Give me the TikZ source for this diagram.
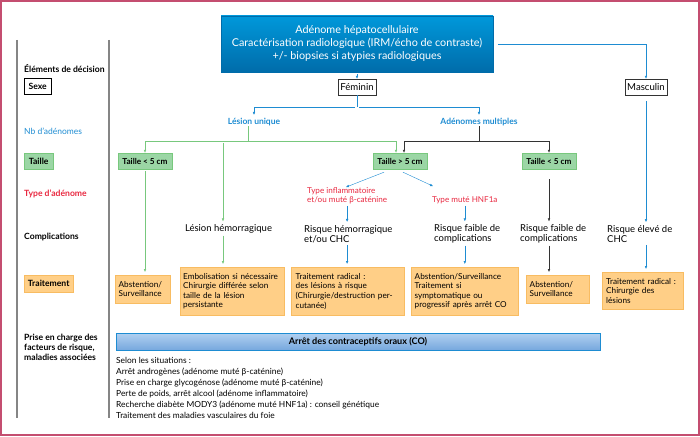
\documentclass[tikz,border=0pt]{standalone}
\usepackage{fontspec}
\setmainfont{Lato}
\usetikzlibrary{arrows.meta,calc}

\definecolor{cadre}{RGB}{196,78,112}
\definecolor{bleu}{RGB}{30,140,210}
\definecolor{bleuhaut}{RGB}{0,152,218}
\definecolor{bleubas}{RGB}{0,108,170}
\definecolor{vert}{RGB}{120,200,125}
\definecolor{vertfond}{RGB}{155,214,165}
\definecolor{orfond}{RGB}{255,207,135}
\definecolor{orbord}{RGB}{248,188,98}
\definecolor{rouge}{RGB}{232,40,64}
\definecolor{barhaut}{RGB}{178,208,240}
\definecolor{barbas}{RGB}{118,168,222}

\tikzset{
  >={Latex[length=3pt,width=2.6pt]},
  txt/.style={inner sep=0pt, align=left, font=\fontsize{9.5}{10.2}\selectfont},
  side/.style={inner sep=0pt, anchor=west, align=left, font=\fontsize{8.6}{10}\selectfont\bfseries},
  sidebox/.style={side, draw, align=center, minimum height=16pt},
  sexbox/.style={draw=black!80, fill=white, minimum height=16pt, inner xsep=2.5pt, font=\fontsize{9.6}{10}\selectfont},
  taillebox/.style={fill=vertfond, draw=vert, minimum height=16pt, minimum width=54pt, inner sep=0pt, font=\fontsize{8.2}{9}\selectfont\bfseries},
  trt/.style={fill=orfond, draw=orbord, anchor=north west, align=left, inner xsep=3.5pt, inner ysep=0pt,
              font=\fontsize{8.2}{9.6}\selectfont},
  rougetxt/.style={txt, text=rouge, anchor=west, font=\fontsize{8.1}{9}\selectfont},
  fleche/.style={->, shorten >=3pt, shorten <=2pt},
}

\begin{document}
\begin{tikzpicture}[x=1pt,y=-1pt]
    \useasboundingbox (0,0) rectangle (700,436);
    % Decoration
    \draw[cadre, line width=1.6pt] (1,1) rectangle (699,435);
    \draw[black!48, line width=1.3pt] (17,40) -- (17,418);
    \draw[black!48, line width=1.3pt] (109,40) -- (109,418);
    % Colonne de gauche
    \node[side] (elements) at (24,69) {Éléments de décision};
    \node[sidebox, minimum width=27pt] (sexe) at (24,86.5) {Sexe};
    \node[side, text=bleu, font=\fontsize{8.5}{10}\selectfont] (nb) at (24,131) {Nb d’adénomes};
    \node[sidebox, draw=vert, fill=vertfond, minimum width=29pt] (taille) at (24,161) {Taille};
    \node[side, text=rouge] (type) at (24,194) {Type d’adénome};
    \node[side] (compl) at (24,237) {Complications};
    \node[sidebox, draw=orbord, fill=orfond, minimum width=49pt, minimum height=17pt] (trait) at (24,283.5) {Traitement};
    \node[side] (prise) at (24,347) {Prise en charge des\\facteurs de risque,\\maladies associées};
    % Noeuds
    \node[draw=bleubas, top color=bleuhaut, bottom color=bleubas, text=white, minimum width=272pt, minimum height=56pt,
          align=center, inner sep=0pt, font=\fontsize{10.8}{13}\selectfont] (adenome) at (357,44)
          {Adénome hépatocellulaire\\Caractérisation radiologique (IRM/écho de contraste)\\+/- biopsies si atypies radiologiques};
    \node[sexbox] (feminin) at (357,87) {Féminin};
    \node[sexbox] (masculin) at (646,87) {Masculin};
    \node[txt, text=bleu, font=\fontsize{8.5}{9}\selectfont\bfseries] (unique) at (254,122) {Lésion unique};
    \node[txt, text=bleu, font=\fontsize{8.5}{9}\selectfont\bfseries] (multiples) at (479,122) {Adénomes multiples};
    \node[taillebox] (tpetit) at (145,161) {Taille < 5 cm};
    \node[taillebox] (tgrand) at (400,161) {Taille > 5 cm};
    \node[taillebox] (tpetitb) at (549,161) {Taille < 5 cm};
    \node[rougetxt] (inflam) at (307,195.5) {Type inflammatoire\\et/ou muté β-caténine};
    \node[rougetxt] (hnf) at (432,200) {Type muté HNF1a};
    \node[txt] (hemo) at (228.5,229) {Lésion hémorragique};
    \node[txt, anchor=west] (risqueh) at (304,234) {Risque hémorragique\\et/ou CHC};
    \node[txt, anchor=west] (faible) at (434,234) {Risque faible de\\complications};
    \node[txt, anchor=west] (faibleb) at (520,234) {Risque faible de\\complications};
    \node[txt, anchor=west] (eleve) at (607,234) {Risque élevé de\\CHC};
    % Traitements
    \node[trt, text width=48pt, minimum height=28pt] (trtA) at (115,275) {Abstention/\\Surveillance};
    \node[trt, inner xsep=3pt, text width=98pt, minimum height=48pt] (trtB) at (180,267) {Embolisation si nécessaire\\Chirurgie différée selon\\taille de la lésion\\persistante};
    \node[trt, inner xsep=4.5pt, text width=104pt, minimum height=48pt] (trtC) at (291,267) {Traitement radical~:\\des lésions à risque\\(Chirurgie/destruction per-\\cutanée)};
    \node[trt, text width=100pt, minimum height=48pt] (trtD) at (411,267) {Abstention/Surveillance\\Traitement si\\symptomatique ou\\progressif après arrêt CO};
    \node[trt, text width=56pt, minimum height=28pt] (trtE) at (526,275) {Abstention/\\Surveillance};
    \node[trt, inner xsep=4pt, text width=73pt, minimum height=37pt] (trtF) at (602,272) {Traitement radical~:\\Chirurgie des\\lésions};
    % Bas
    \node[draw=bleu, top color=barhaut, bottom color=barbas, minimum width=484pt, minimum height=17pt, inner sep=0pt,
          font=\fontsize{9.1}{10}\selectfont\bfseries] (arret) at (358,341.5) {Arrêt des contraceptifs oraux (CO)};
    \node[txt, anchor=north west, font=\fontsize{8.4}{11}\selectfont] (liste) at (116,357.5)
          {Selon les situations~:\\
           Arrêt androgènes (adénome muté β-caténine)\\
           Prise en charge glycogénose (adénome muté β-caténine)\\
           Perte de poids, arrêt alcool (adénome inflammatoire)\\
           Recherche diabète MODY3 (adénome muté HNF1a)~: conseil génétique\\
           Traitement des maladies vasculaires du foie};
    % Coordinate
    \coordinate (fsplit) at (357,107);
    \coordinate (gl) at (145,141);
    \coordinate (gm) at (223,141);
    \coordinate (gr) at (396,141);
    \coordinate (bl) at (404,141);
    \coordinate (br) at (549,141);
    % Linee bleues
    \draw[bleu, fleche, shorten >=0pt] (adenome) -- (feminin);
    \draw[bleu, ->] ($(adenome.east)+(5,0)$) -| (masculin.north);
    \draw[bleu] (feminin.south) -- (fsplit);
    \draw[bleu, fleche] (fsplit) -| (unique.north);
    \draw[bleu, fleche] (fsplit) -| (multiples.north);
    % Lesion unique
    \draw[vert] (unique.south -| 248,0) -- (gl -| 248,0);
    \draw[vert] (gl) -- (gr);
    \draw[vert, ->] (gl) -- (tpetit.north);
    \draw[vert, fleche] (gm) -- (gm |- hemo.north);
    \draw[vert, ->] (gr) -- (gr |- tgrand.north);
    \draw[vert, fleche] (tpetit.south) -- (tpetit.south |- trtA.north);
    \draw[vert, fleche] (gm |- hemo.south) -- (gm |- trtB.north);
    % Adenomes multiples
    \draw[black!80] (multiples.south) -- (multiples.south |- bl);
    \draw[black!80] (bl) -- (br);
    \draw[black!80, ->] (bl) -- (bl |- tgrand.north);
    \draw[black!80, ->] (br) -- (tpetitb.north);
    \draw[black!80, fleche, shorten <=10pt] (tpetitb.south) -- (tpetitb.south |- faibleb.north);
    \draw[black!80, fleche] (tpetitb.south |- faibleb.south) -- (tpetitb.south |- trtE.north);
    % Taille > 5 cm
    \draw[bleu, ->] ($(tgrand.south)+(-16,3)$) -- (inflam.north -| 346,0);
    \draw[bleu, ->] ($(tgrand.south)+(3,3)$) -- ($(hnf.north west)+(1,-10)$);
    \draw[bleu, fleche] (inflam.south) -- (inflam.south |- risqueh.north);
    \draw[bleu, fleche] (inflam.south |- risqueh.south) -- (inflam.south |- trtC.north);
    \draw[bleu, fleche] (hnf.south) -- (hnf.south |- faible.north);
    \draw[bleu, fleche] (hnf.south |- faible.south) -- (hnf.south |- trtD.north);
    % Masculin
    \draw[bleu, fleche, shorten <=6pt] (masculin.south) -- (masculin.south |- eleve.north);
    \draw[bleu, fleche] (masculin.south |- eleve.south) -- (masculin.south |- trtF.north);
\end{tikzpicture}
\end{document}
